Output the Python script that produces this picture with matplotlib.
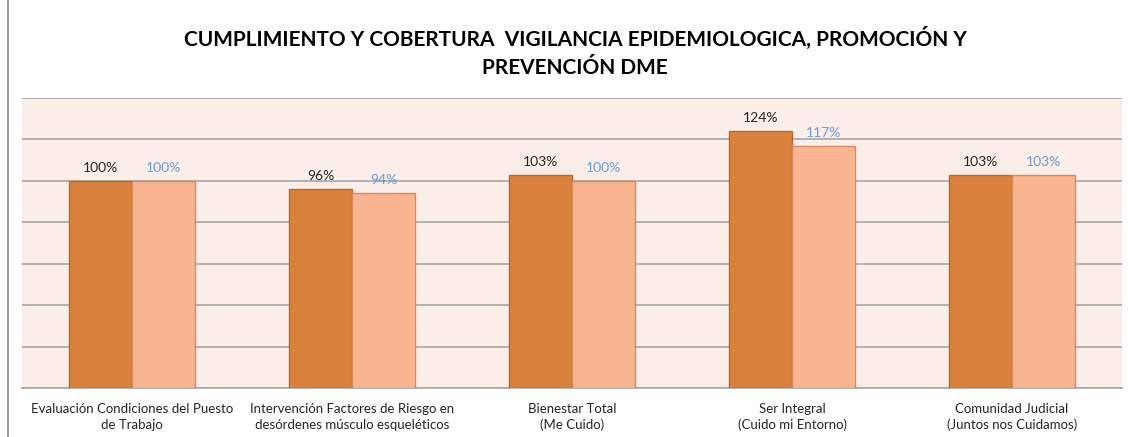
import numpy as np
import matplotlib.pyplot as plt
from matplotlib.lines import Line2D

# data
categories = ["Evaluación Condiciones del Puesto\nde Trabajo",
              "Intervención Factores de Riesgo en\ndesórdenes músculo esqueléticos",
              "Bienestar Total\n(Me Cuido)",
              "Ser Integral\n(Cuido mi Entorno)",
              "Comunidad Judicial\n(Juntos nos Cuidamos)"]
cumplimiento = [100, 96, 103, 124, 103]
cobertura = [100, 94, 100, 117, 103]

plt.rcParams['font.family'] = ['Lato', 'DejaVu Sans']

fig = plt.figure(figsize=(11.28, 4.37), dpi=100)
ax = fig.add_axes([22/1128, 49/437, 1100/1128, 290/437])
ax.set_facecolor('#FBEDE8')

x = np.arange(len(categories))
w = 0.286
b1 = ax.bar(x - w/2, cumplimiento, w, color='#D9823E', edgecolor='#B9692C', linewidth=1, zorder=3)
b2 = ax.bar(x + w/2, cobertura, w, color='#F8B590', edgecolor='#D98A5C', linewidth=1, zorder=3)

for rect, v in zip(b1, cumplimiento):
    ax.annotate('{}%'.format(v), (rect.get_x() + rect.get_width()/2, v), xytext=(0, 5),
                textcoords='offset points', ha='center', va='bottom', fontsize=10, color='#262626', zorder=4)
for rect, v in zip(b2, cobertura):
    ax.annotate('{}%'.format(v), (rect.get_x() + rect.get_width()/2, v), xytext=(0, 5),
                textcoords='offset points', ha='center', va='bottom', fontsize=10, color='#6A9BDA', zorder=4)

ax.set_xlim(-0.5, len(categories) - 0.5)
ax.set_ylim(0, 140)
ax.set_yticks(np.arange(0, 141, 20))
ax.yaxis.grid(True, color='#A6A6A6', linewidth=1.2, zorder=0)
ax.tick_params(axis='y', left=False, labelleft=False)
ax.tick_params(axis='x', bottom=False, labelsize=9.5, labelcolor='#262626', pad=7)
ax.set_xticks(x)
ax.set_xticklabels(categories, linespacing=1.4)
for s in ['top', 'left', 'right']:
    ax.spines[s].set_visible(False)
ax.spines['bottom'].set_color('#A6A6A6')
ax.spines['bottom'].set_linewidth(1.2)

title1 = "CUMPLIMIENTO Y COBERTURA  VIGILANCIA EPIDEMIOLOGICA, PROMOCIÓN Y"
fig.text(0.51, 1 - 38/437, title1, ha='center', va='center', fontsize=15, fontweight='bold', color='black')
fig.text(0.51, 1 - 68/437, "PREVENCIÓN DME", ha='center', va='center', fontsize=15, fontweight='bold', color='black')

# chart border on the left
fig.add_artist(Line2D([8/1128, 8/1128], [0, 1], transform=fig.transFigure, color='#8C8C8C', linewidth=1.2, zorder=5))

fig.savefig('out.png', dpi=100, facecolor='white')
